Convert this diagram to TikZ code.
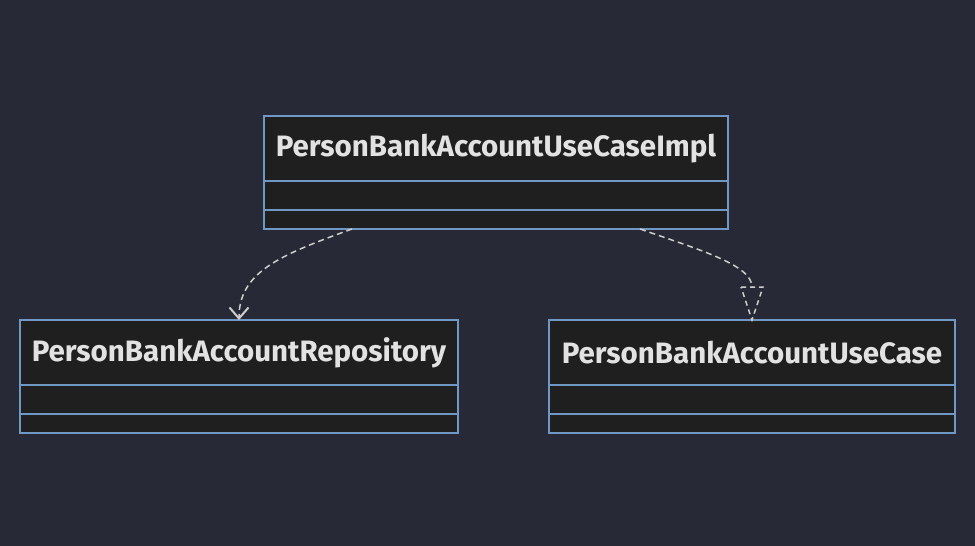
\documentclass[tikz,border=0pt]{standalone}
\usepackage{fontspec}
\setmainfont{Fira Sans}
\usepackage{tikz}
\usetikzlibrary{positioning,arrows.meta}
\definecolor{bgdark}{RGB}{39,42,54}
\definecolor{classfill}{RGB}{31,31,31}
\definecolor{classline}{RGB}{112,152,196}
\definecolor{classtext}{RGB}{226,226,226}
\definecolor{edgegray}{RGB}{205,205,205}
\tikzstyle{classhead} = [draw=classline, line width=1.5pt, fill=classfill, minimum height=65pt, inner sep=0pt, outer sep=0pt, text=classtext, font=\bfseries\fontsize{29.5}{34}\selectfont]
\tikzstyle{classrow} = [draw=classline, line width=1.5pt, fill=classfill, inner sep=0pt, outer sep=0pt]
\tikzstyle{depline} = [draw=edgegray, line width=1.5pt, dash pattern=on 6pt off 4pt]

\begin{document}
\begin{tikzpicture}[x=1pt, y=-1pt]
\useasboundingbox[fill=bgdark] (0,0) rectangle (975,546);
% classes
\node [classhead, minimum width=464pt] (impl) at (496,148.5) {PersonBankAccountUseCaseImpl};
\node [classrow, minimum width=464pt, minimum height=29pt, below=0pt of impl] (implattr) {};
\node [classrow, minimum width=464pt, minimum height=19pt, below=0pt of implattr] (implops) {};

\node [classhead, minimum width=438pt] (repo) at (239,352.5) {PersonBankAccountRepository};
\node [classrow, minimum width=438pt, minimum height=29pt, below=0pt of repo] (repoattr) {};
\node [classrow, minimum width=438pt, minimum height=19pt, below=0pt of repoattr] (repoops) {};

\node [classhead, minimum width=406pt] (usecase) at (752,352.5) {PersonBankAccountUseCase};
\node [classrow, minimum width=406pt, minimum height=29pt, below=0pt of usecase] (usecaseattr) {};
\node [classrow, minimum width=406pt, minimum height=19pt, below=0pt of usecaseattr] (usecaseops) {};

% dependency
\draw [depline, -{Straight Barb[length=11pt, width=19pt, line width=2pt]}]
    ([xshift=-144pt]implops.south) .. controls +(-72pt,-26pt) and +(0pt,48pt) .. (repo.north);

% realization
\coordinate (trileft) at ([xshift=-11pt, yshift=33pt]usecase.north);
\coordinate (triright) at ([xshift=11pt, yshift=33pt]usecase.north);
\coordinate (tribase) at ([yshift=33pt]usecase.north);
\draw [depline] ([xshift=144pt]implops.south) .. controls +(60pt,-21pt) and +(0pt,22pt) .. (tribase);
\draw [depline, dash pattern=on 5pt off 4pt] (trileft) -- (triright) -- (usecase.north) -- cycle;
\end{tikzpicture}
\end{document}
